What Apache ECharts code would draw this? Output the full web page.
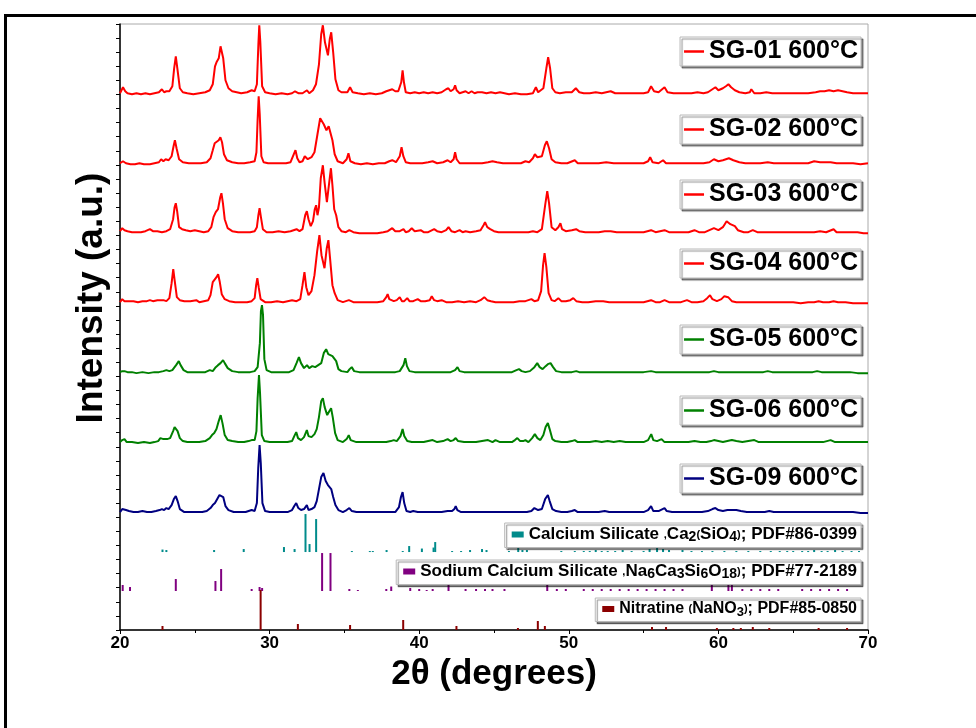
<!DOCTYPE html>
<html><head><meta charset="utf-8">
<script src="https://cdn.jsdelivr.net/npm/echarts@6/dist/echarts.min.js"></script>
<style>html,body{margin:0;padding:0;background:#fff}#c{width:976px;height:728px}</style>
</head><body><div id="c"></div>
<script>
// ---- data: [2θ (deg), intensity above own baseline (a.u.)] ----
const sg01 = [[20.0,1],[20.1,3],[20.2,7],[20.35,3],[20.5,1],[20.8,0],[21.1,1],[21.4,0],[21.7,1],[22.0,0],[22.3,1],[22.6,2],[22.8,5],[22.95,2],[23.1,3],[23.3,3],[23.5,8],[23.62,26],[23.73,38],[23.85,24],[24.0,6],[24.2,2],[24.5,1],[24.9,0],[25.3,1],[25.7,2],[26.0,4],[26.2,10],[26.35,28],[26.45,32],[26.6,36],[26.72,48],[26.8,50],[26.9,36],[27.05,14],[27.25,6],[27.5,3],[27.8,2],[28.1,1],[28.5,2],[28.8,4],[29.0,3],[29.15,10],[29.25,50],[29.31,69],[29.38,52],[29.5,8],[29.7,2],[30.0,1],[30.4,0],[30.8,1],[31.2,0],[31.5,1],[31.7,3],[31.8,5],[31.95,1],[32.2,1],[32.5,4],[32.65,1],[32.9,4],[33.1,10],[33.3,30],[33.45,60],[33.56,69],[33.7,52],[33.9,39],[34.02,55],[34.12,62],[34.25,42],[34.4,15],[34.6,4],[34.8,2],[35.2,2],[35.38,7],[35.55,2],[35.9,1],[36.3,0],[36.7,1],[37.1,0],[37.5,1],[37.8,3],[38.0,4],[38.2,5],[38.4,3],[38.6,3],[38.8,12],[38.89,24],[38.98,12],[39.1,2],[39.4,1],[39.7,2],[40.0,1],[40.3,2],[40.6,1],[40.9,2],[41.2,1],[41.5,2],[41.8,5],[41.95,6],[42.1,3],[42.3,5],[42.4,9],[42.5,4],[42.7,1],[42.9,2],[43.1,3],[43.3,1],[43.5,3],[43.7,1],[43.9,2],[44.2,2],[44.5,1],[44.8,2],[45.1,1],[45.4,2],[45.7,1],[46.0,0],[46.4,1],[46.8,0],[47.2,0],[47.6,1],[47.8,7],[47.95,2],[48.3,6],[48.5,26],[48.62,37],[48.75,26],[48.9,6],[49.1,2],[49.4,1],[49.8,2],[50.2,2],[50.47,6],[50.7,2],[51.0,1],[51.4,1],[51.8,2],[52.2,1],[52.5,2],[52.8,3],[53.1,1],[53.5,1],[54.0,1],[54.5,1],[55.0,1],[55.3,2],[55.5,8],[55.7,3],[56.0,2],[56.4,7],[56.6,2],[57.0,1],[57.4,1],[57.8,1],[58.2,1],[58.6,2],[59.0,1],[59.3,2],[59.6,5],[59.8,7],[60.0,4],[60.3,6],[60.5,8],[60.67,10],[60.85,7],[61.1,4],[61.4,2],[61.8,1],[62.1,2],[62.2,5],[62.4,1],[62.8,1],[63.2,2],[63.6,1],[64.0,1],[64.5,1],[65.0,1],[65.5,1],[66.0,1],[66.5,2],[66.8,3],[67.1,3],[67.4,4],[67.7,3],[68.0,4],[68.3,3],[68.6,2],[69.0,1],[69.5,1],[70.0,1]];
const sg02 = [[20.0,1],[20.2,3],[20.4,1],[20.7,0],[21.0,0],[21.3,1],[21.6,0],[22.0,0],[22.3,1],[22.6,2],[22.75,5],[22.9,3],[23.05,5],[23.25,4],[23.45,8],[23.58,18],[23.67,24],[23.78,16],[23.95,5],[24.2,2],[24.6,1],[25.0,1],[25.4,1],[25.8,2],[26.05,6],[26.2,14],[26.33,21],[26.45,20],[26.6,24],[26.71,27],[26.82,22],[26.95,10],[27.15,4],[27.5,2],[27.9,1],[28.3,1],[28.7,2],[29.0,3],[29.12,12],[29.2,45],[29.27,68],[29.34,50],[29.45,8],[29.6,2],[29.9,1],[30.3,1],[30.7,1],[31.1,1],[31.4,2],[31.62,10],[31.73,14],[31.85,6],[32.0,2],[32.2,3],[32.35,8],[32.44,9],[32.55,5],[32.8,7],[33.0,12],[33.2,30],[33.38,46],[33.49,48],[33.62,40],[33.8,34],[33.95,38],[34.05,36],[34.2,24],[34.35,10],[34.55,3],[34.9,1],[35.15,5],[35.27,11],[35.4,3],[35.7,1],[36.1,0],[36.5,1],[36.9,0],[37.3,1],[37.7,1],[38.0,3],[38.2,4],[38.45,2],[38.7,8],[38.82,17],[38.94,8],[39.1,2],[39.4,1],[39.8,1],[40.2,1],[40.6,2],[40.9,3],[41.2,1],[41.6,2],[41.9,4],[42.1,2],[42.3,5],[42.4,12],[42.5,5],[42.7,1],[43.0,1],[43.4,1],[43.8,1],[44.2,1],[44.6,2],[44.9,3],[45.2,2],[45.6,1],[46.0,1],[46.4,1],[46.8,1],[47.1,3],[47.35,2],[47.6,6],[47.73,10],[47.9,7],[48.2,8],[48.4,19],[48.53,23],[48.68,16],[48.85,5],[49.1,2],[49.5,1],[49.9,1],[50.4,4],[50.6,1],[51.0,1],[51.5,1],[52.0,1],[52.5,2],[53.0,1],[53.5,1],[54.0,1],[54.5,1],[55.0,1],[55.3,3],[55.44,7],[55.6,2],[56.0,1],[56.3,4],[56.5,1],[57.0,1],[57.5,1],[58.0,1],[58.5,1],[59.0,1],[59.4,2],[59.7,5],[60.0,3],[60.3,4],[60.7,6],[61.0,4],[61.4,2],[61.8,1],[62.3,1],[62.8,1],[63.3,2],[63.7,1],[64.2,1],[64.8,1],[65.4,1],[66.0,1],[66.4,3],[66.8,2],[67.2,2],[67.5,2],[67.9,1],[68.4,1],[69.0,1],[69.5,0],[70.0,1]];
const sg03 = [[20.0,2],[20.15,5],[20.3,3],[20.5,2],[20.8,1],[21.1,1],[21.4,1],[21.7,2],[22.0,4],[22.2,2],[22.5,2],[22.8,1],[23.1,2],[23.35,4],[23.55,14],[23.65,26],[23.73,30],[23.82,22],[23.95,6],[24.15,4],[24.4,3],[24.7,2],[25.0,3],[25.13,5],[25.3,2],[25.6,1],[25.9,2],[26.1,6],[26.25,16],[26.4,21],[26.55,24],[26.7,36],[26.78,40],[26.88,30],[27.0,14],[27.2,5],[27.5,2],[27.9,1],[28.3,1],[28.7,1],[29.0,2],[29.15,6],[29.25,18],[29.33,25],[29.42,16],[29.55,4],[29.8,1],[30.2,1],[30.6,2],[31.0,1],[31.4,2],[31.8,4],[32.0,2],[32.2,4],[32.38,18],[32.49,22],[32.6,14],[32.75,7],[32.9,12],[33.02,24],[33.11,28],[33.2,18],[33.3,26],[33.42,55],[33.56,68],[33.68,50],[33.83,31],[33.98,50],[34.1,65],[34.2,48],[34.32,24],[34.45,18],[34.6,6],[34.8,2],[35.1,1],[35.33,3],[35.6,1],[36.0,0],[36.4,0],[36.8,0],[37.2,0],[37.6,1],[37.9,2],[38.2,5],[38.4,2],[38.7,2],[38.95,4],[39.1,1],[39.3,2],[39.5,5],[39.7,2],[40.1,3],[40.3,1],[40.6,1],[41.0,4],[41.2,2],[41.5,1],[41.8,3],[41.96,6],[42.15,2],[42.4,1],[42.7,3],[42.9,1],[43.1,2],[43.4,1],[43.8,2],[44.1,3],[44.3,8],[44.4,11],[44.55,6],[44.75,4],[45.0,2],[45.3,1],[45.7,1],[46.1,1],[46.5,1],[46.9,1],[47.3,1],[47.6,2],[47.9,1],[48.2,4],[48.42,28],[48.56,42],[48.68,30],[48.85,6],[49.1,3],[49.3,6],[49.44,10],[49.55,4],[49.8,2],[50.2,3],[50.49,4],[50.7,2],[51.1,1],[51.5,1],[52.0,1],[52.4,2],[52.8,2],[53.2,1],[53.6,1],[54.0,1],[54.5,1],[55.0,1],[55.5,3],[55.8,1],[56.1,2],[56.4,3],[56.7,1],[57.1,1],[57.5,1],[58.0,1],[58.4,3],[58.7,1],[59.1,1],[59.4,3],[59.7,5],[60.0,3],[60.3,6],[60.55,12],[60.67,13],[60.8,9],[61.1,7],[61.3,3],[61.7,1],[62.0,1],[62.3,3],[62.6,1],[63.0,1],[63.5,1],[64.0,1],[64.5,1],[65.0,1],[65.5,1],[66.0,1],[66.4,1],[66.8,2],[67.2,1],[67.7,4],[67.9,1],[68.3,1],[68.8,1],[69.3,1],[69.7,0],[70.0,0]];
const sg04 = [[20.0,1],[20.15,4],[20.3,2],[20.6,2],[20.9,2],[21.2,1],[21.5,2],[21.8,2],[22.0,3],[22.2,2],[22.5,3],[22.9,3],[23.1,2],[23.3,5],[23.45,20],[23.56,34],[23.66,22],[23.8,6],[24.0,3],[24.3,2],[24.7,2],[25.1,3],[25.3,1],[25.6,2],[25.9,3],[26.05,8],[26.2,21],[26.32,20],[26.45,26],[26.56,29],[26.66,22],[26.8,9],[27.0,4],[27.3,2],[27.7,1],[28.1,1],[28.5,1],[28.8,2],[29.0,5],[29.1,18],[29.18,25],[29.27,16],[29.4,4],[29.7,1],[30.1,1],[30.5,2],[30.9,1],[31.2,2],[31.5,3],[31.8,2],[32.05,4],[32.2,18],[32.33,31],[32.45,16],[32.6,8],[32.8,12],[33.0,28],[33.18,52],[33.33,68],[33.47,48],[33.67,35],[33.82,55],[33.93,63],[34.04,45],[34.2,18],[34.35,10],[34.55,3],[34.9,1],[35.3,3],[35.6,1],[36.0,1],[36.4,1],[36.8,1],[37.2,1],[37.6,2],[37.8,6],[37.89,9],[38.0,4],[38.3,2],[38.5,3],[38.7,6],[38.85,2],[39.0,2],[39.2,5],[39.35,2],[39.6,2],[39.9,4],[40.1,2],[40.4,2],[40.7,3],[40.84,7],[41.0,3],[41.2,2],[41.5,3],[41.8,1],[42.2,1],[42.6,2],[43.0,1],[43.4,2],[43.8,1],[44.1,3],[44.35,6],[44.55,3],[44.8,2],[45.1,1],[45.5,1],[45.9,1],[46.3,1],[46.7,2],[47.1,2],[47.5,4],[47.7,2],[47.95,3],[48.15,12],[48.28,38],[48.38,50],[48.5,36],[48.65,10],[48.85,3],[49.05,2],[49.3,5],[49.5,2],[49.8,2],[50.1,3],[50.3,5],[50.5,2],[50.9,1],[51.3,1],[51.8,2],[52.3,2],[52.7,1],[53.2,1],[53.6,1],[54.0,1],[54.5,1],[55.0,1],[55.5,3],[55.8,1],[56.1,1],[56.4,3],[56.7,1],[57.1,1],[57.5,1],[57.9,3],[58.2,1],[58.6,1],[59.0,2],[59.25,5],[59.44,8],[59.6,4],[59.9,2],[60.2,4],[60.4,7],[60.51,9],[60.65,6],[60.9,2],[61.2,1],[61.6,1],[62.0,1],[62.5,1],[63.0,1],[63.5,1],[64.0,1],[64.5,1],[65.0,1],[65.5,0],[66.0,1],[66.4,1],[66.7,2],[67.0,1],[67.4,1],[67.7,2],[68.0,1],[68.5,1],[69.0,0],[69.5,0],[70.0,0]];
const sg05 = [[20.0,1],[20.15,2],[20.3,2],[20.5,1],[20.8,1],[21.1,0],[21.5,1],[21.9,0],[22.3,1],[22.6,1],[22.9,2],[23.1,3],[23.3,2],[23.5,3],[23.75,8],[23.93,12],[24.05,8],[24.25,3],[24.5,1],[24.9,1],[25.3,1],[25.7,1],[26.0,3],[26.2,2],[26.4,6],[26.55,8],[26.72,10],[26.89,13],[27.0,10],[27.2,5],[27.5,2],[27.9,1],[28.3,1],[28.7,1],[29.0,2],[29.2,6],[29.35,30],[29.42,62],[29.49,68],[29.56,58],[29.65,14],[29.8,3],[30.1,1],[30.5,1],[30.9,1],[31.3,1],[31.6,3],[31.8,10],[31.96,16],[32.1,10],[32.3,5],[32.5,8],[32.65,5],[32.85,7],[33.05,6],[33.25,8],[33.45,10],[33.62,20],[33.78,24],[33.92,19],[34.05,18],[34.2,17],[34.33,19],[34.45,12],[34.6,4],[34.8,2],[35.2,1],[35.35,4],[35.49,6],[35.65,2],[36.0,1],[36.4,1],[36.8,1],[37.2,1],[37.6,1],[38.0,1],[38.4,1],[38.7,2],[38.95,8],[39.07,15],[39.18,7],[39.35,2],[39.7,1],[40.1,1],[40.5,1],[40.9,1],[41.3,1],[41.7,1],[42.1,1],[42.4,3],[42.56,6],[42.7,2],[43.0,1],[43.4,1],[43.8,1],[44.2,1],[44.6,1],[45.0,1],[45.4,1],[45.8,1],[46.2,1],[46.5,3],[46.67,4],[46.85,2],[47.1,1],[47.4,2],[47.7,6],[47.89,10],[48.05,6],[48.25,4],[48.45,7],[48.6,9],[48.78,10],[48.95,6],[49.15,2],[49.5,1],[49.9,1],[50.2,1],[50.5,2],[50.7,1],[51.1,1],[51.5,1],[52.0,1],[52.5,1],[53.0,1],[53.5,1],[54.0,1],[54.5,1],[55.0,1],[55.5,2],[55.8,1],[56.2,1],[56.6,1],[57.0,1],[57.5,1],[58.0,1],[58.5,1],[59.0,1],[59.4,1],[59.7,2],[60.0,1],[60.4,1],[60.8,1],[61.2,1],[61.6,1],[62.0,1],[62.5,1],[63.0,1],[63.3,2],[63.6,1],[64.0,1],[64.5,1],[65.0,1],[65.5,1],[66.0,1],[66.3,1],[66.6,2],[66.9,1],[67.3,1],[67.8,1],[68.3,1],[68.8,1],[69.3,0],[70.0,0]];
const sg06 = [[20.0,1],[20.15,3],[20.3,4],[20.45,1],[20.8,1],[21.2,0],[21.6,1],[22.0,0],[22.3,1],[22.55,2],[22.7,5],[22.8,7],[22.9,4],[23.0,5],[23.15,4],[23.35,5],[23.55,12],[23.65,16],[23.73,18],[23.85,12],[24.0,5],[24.2,2],[24.5,1],[24.9,1],[25.0,2],[25.3,1],[25.7,2],[26.0,5],[26.15,8],[26.3,10],[26.45,14],[26.6,22],[26.73,28],[26.85,20],[27.0,8],[27.2,3],[27.5,2],[27.9,1],[28.3,1],[28.6,2],[28.8,3],[29.0,3],[29.12,12],[29.2,45],[29.29,68],[29.36,50],[29.48,8],[29.65,2],[30.0,1],[30.4,1],[30.8,1],[31.2,1],[31.5,2],[31.65,7],[31.78,11],[31.9,5],[32.1,3],[32.3,6],[32.49,13],[32.6,7],[32.8,6],[33.0,9],[33.15,14],[33.3,26],[33.45,42],[33.56,45],[33.68,36],[33.85,28],[34.0,32],[34.11,35],[34.22,26],[34.38,10],[34.55,3],[34.9,1],[35.15,4],[35.29,8],[35.42,3],[35.8,1],[36.2,1],[36.6,1],[37.0,1],[37.4,1],[37.8,1],[38.1,2],[38.3,3],[38.5,2],[38.75,7],[38.89,14],[39.0,7],[39.2,2],[39.5,1],[39.9,1],[40.3,1],[40.6,2],[40.9,3],[41.2,1],[41.6,2],[41.9,4],[42.1,2],[42.3,3],[42.44,5],[42.6,2],[43.0,1],[43.4,1],[43.8,1],[44.2,2],[44.6,3],[44.9,1],[45.1,3],[45.4,1],[45.8,1],[46.2,1],[46.4,3],[46.56,5],[46.75,2],[46.95,2],[47.1,3],[47.3,1],[47.55,5],[47.73,9],[47.9,5],[48.1,3],[48.3,8],[48.45,16],[48.6,20],[48.72,14],[48.9,4],[49.1,2],[49.5,1],[49.9,1],[50.2,2],[50.4,3],[50.6,1],[51.0,1],[51.4,1],[51.8,2],[52.2,1],[52.6,2],[53.0,1],[53.4,2],[53.8,1],[54.2,1],[54.6,1],[55.0,1],[55.3,3],[55.51,9],[55.65,3],[55.9,2],[56.2,4],[56.4,1],[56.8,1],[57.2,1],[57.6,1],[58.0,1],[58.4,2],[58.8,1],[59.2,1],[59.5,2],[59.7,3],[60.0,2],[60.3,1],[60.6,2],[60.9,3],[61.2,2],[61.6,1],[62.0,2],[62.4,3],[62.7,1],[63.1,1],[63.6,1],[64.0,1],[64.5,1],[65.0,1],[65.5,1],[66.0,1],[66.5,1],[67.0,1],[67.5,3],[67.8,1],[68.3,1],[68.8,1],[69.3,1],[69.7,1],[70.0,1]];
const sg09 = [[20.0,1],[20.15,4],[20.27,5],[20.4,3],[20.6,2],[20.9,1],[21.2,1],[21.5,2],[21.8,1],[22.1,1],[22.4,2],[22.65,3],[22.8,4],[22.95,3],[23.1,5],[23.25,4],[23.45,8],[23.6,14],[23.73,17],[23.85,12],[24.0,4],[24.3,1],[24.7,1],[25.1,1],[25.5,1],[25.8,2],[26.05,5],[26.2,8],[26.35,10],[26.5,14],[26.65,18],[26.78,19],[26.9,16],[27.05,7],[27.25,3],[27.6,1],[28.0,1],[28.4,1],[28.8,3],[29.0,2],[29.15,10],[29.24,45],[29.33,68],[29.41,50],[29.52,10],[29.7,2],[30.0,1],[30.4,1],[30.8,1],[31.2,1],[31.5,3],[31.65,7],[31.78,10],[31.92,5],[32.1,3],[32.3,4],[32.49,8],[32.6,3],[32.8,4],[33.0,6],[33.15,12],[33.3,24],[33.45,36],[33.6,40],[33.75,32],[33.9,28],[34.0,28],[34.12,24],[34.25,16],[34.4,8],[34.6,3],[34.9,1],[35.15,3],[35.33,5],[35.5,2],[35.8,1],[36.2,1],[36.6,1],[37.0,1],[37.4,1],[37.8,1],[38.1,1],[38.4,1],[38.65,6],[38.78,16],[38.89,21],[39.0,10],[39.15,2],[39.4,1],[39.6,2],[39.9,1],[40.3,1],[40.7,1],[41.1,1],[41.5,1],[41.9,2],[42.2,2],[42.35,4],[42.44,7],[42.55,3],[42.8,1],[43.2,1],[43.6,1],[44.0,1],[44.4,1],[44.8,1],[45.2,1],[45.6,1],[46.0,1],[46.4,1],[46.8,1],[47.2,1],[47.5,2],[47.7,5],[47.82,7],[47.95,3],[48.2,4],[48.42,14],[48.6,18],[48.72,12],[48.9,4],[49.15,2],[49.5,1],[49.9,1],[50.2,2],[50.4,3],[50.6,1],[51.0,1],[51.5,1],[52.0,1],[52.4,2],[52.7,1],[53.1,1],[53.5,1],[54.0,1],[54.5,1],[55.0,1],[55.3,3],[55.5,7],[55.65,2],[56.0,2],[56.4,5],[56.55,2],[56.9,1],[57.3,1],[57.7,1],[58.1,1],[58.5,1],[58.9,1],[59.3,2],[59.6,4],[59.8,5],[60.0,3],[60.3,2],[60.6,3],[60.9,3],[61.2,3],[61.5,2],[61.9,1],[62.3,1],[62.7,1],[63.1,1],[63.4,2],[63.7,1],[64.1,1],[64.6,1],[65.1,1],[65.6,1],[66.1,1],[66.6,1],[67.0,1],[67.5,1],[68.0,1],[68.5,1],[69.0,1],[69.5,0],[70.0,0]];

// reference patterns: [2θ, relative intensity]
const refCa2SiO4 = [[22.84,2.5],[23.1,2],[26.29,2],[28.27,3],[30.96,5],[31.67,3],[32.4,38],[32.67,8],[33.11,33],[35.5,1],[36.7,1],[36.9,1],[37.82,2],[38.9,1],[39.33,6],[40.18,3.5],[40.96,4.5],[41.07,10],[42.2,1],[42.8,1],[43.4,2],[44.2,3],[44.5,2],[46.0,1],[46.62,4],[46.9,2],[47.2,2],[49.5,1],[50.4,1],[51.0,1],[51.4,1],[51.8,2],[52.2,1],[52.6,1],[53.1,1],[53.6,2],[54.2,1],[55.0,1],[55.4,3],[55.9,4],[56.3,3],[56.7,2],[57.6,2],[58.2,1],[58.9,1],[59.6,1],[60.4,1],[61.2,1],[62.0,1],[62.8,1],[63.5,1],[64.1,1],[64.6,1],[65.0,1],[65.6,1],[66.0,1],[66.4,2],[66.9,1],[67.3,1],[67.8,2],[68.3,1],[68.9,1],[69.4,1]];
const refNa6Ca3Si6O18 = [[20.18,6],[20.67,4],[23.73,12],[26.38,10],[26.76,22],[28.8,2],[29.33,4],[29.5,3],[33.51,38],[34.07,38],[35.33,2],[35.9,1],[37.8,2],[38.13,4.5],[39.4,3],[40.0,2],[40.5,1],[40.9,2],[41.96,6],[43.1,2],[43.8,2],[44.4,2],[44.9,2],[45.7,2],[48.56,9],[49.2,2],[49.8,2],[51.0,2],[51.6,2],[52.2,2],[52.8,2],[53.4,2],[54.0,2],[54.6,2],[55.2,2],[55.8,2],[56.4,2],[57.0,2],[57.6,2],[59.56,6],[60.67,8],[60.9,6],[61.6,2],[62.2,2],[62.8,2],[63.4,2],[64.0,2],[65.6,2],[66.2,2],[66.8,2],[67.4,2],[68.0,2],[68.6,2]];
const refNaNO3 = [[22.84,4],[29.4,40],[31.89,6],[35.38,5],[38.93,10],[42.49,4],[46.6,2],[47.93,9],[48.4,4],[55.56,3],[56.5,3],[59.9,2],[61.0,2],[61.5,2],[62.3,3],[63.4,2],[66.7,2],[68.6,2]];

const sampleNames = ['SG-01 600°C','SG-02 600°C','SG-03 600°C','SG-04 600°C','SG-05 600°C','SG-06 600°C','SG-09 600°C'];
const sampleData = [sg01, sg02, sg03, sg04, sg05, sg06, sg09];
const sampleOffsets = [536, 466, 397, 327, 257, 187, 117];   // vertical stacking offsets (a.u.)
const refNames = ['Calcium Silicate', 'Sodium Calcium Silicate', 'Nitratine'];
const refData = [refCa2SiO4, refNa6Ca3Si6O18, refNaNO3];
const refOffsets = [78, 39, 0];
const xTickValues = [20, 30, 40, 50, 60, 70];

// ---- styles ----
const sampleColors = ['#ff0000','#ff0000','#ff0000','#ff0000','#008000','#008000','#000080'];
const refColors = ['#008b8b', '#800080', '#8b0000'];
const sampleLegendTops = [37, 115, 180, 249, 325, 396, 464];
const refLegendTops = [523, 560, 598];
const refFontSizes = [17, 17, 16];
const refFormatters = [
  'Calcium Silicate {s|,}Ca{b|2}{s|(}SiO{b|4}{s|)}; PDF#86-0399',
  'Sodium Calcium Silicate {s|,}Na{b|6}Ca{b|3}Si{b|6}O{b|18}{s|)}; PDF#77-2189',
  'Nitratine {s|(}NaNO{b|3}{s|)}; PDF#85-0850'
];
const FONT = '"Liberation Sans", Arial, sans-serif';

const chart = echarts.init(document.getElementById('c'));

const series = [];
sampleData.forEach((d, i) => {
  series.push({
    type: 'line', name: sampleNames[i], showSymbol: false, symbol: 'none', silent: true,
    data: d.map(p => [p[0], p[1] + sampleOffsets[i]]),
    lineStyle: { width: 2, color: sampleColors[i] }, itemStyle: { color: sampleColors[i] }, z: 3
  });
});
refData.forEach((d, i) => {
  const col = refColors[i];
  series.push({
    type: 'custom', name: refNames[i], silent: true,
    data: d.map(p => [p[0], p[1], refOffsets[i]]),
    encode: { x: 0, y: 1 },
    itemStyle: { color: col },
    renderItem: function (params, api) {
      const x = api.value(0), h = api.value(1), base = api.value(2);
      const p0 = api.coord([x, base]);
      const p1 = api.coord([x, base + h]);
      return { type: 'line', shape: { x1: p0[0], y1: p0[1], x2: p1[0], y2: p1[1] },
               style: { stroke: col, lineWidth: 2 } };
    }, z: 2
  });
});

const legends = [];
sampleNames.forEach((n, i) => {
  legends.push({
    data: [{ name: n, icon: 'rect' }], right: 115, top: sampleLegendTops[i], selectedMode: false,
    itemWidth: 20, itemHeight: 2.5, padding: [2, 3, 2, 4],
    backgroundColor: '#fff', borderColor: '#b8b8b8', borderWidth: 1,
    shadowColor: 'rgba(0,0,0,0.45)', shadowOffsetX: 2, shadowOffsetY: 2, shadowBlur: 1,
    textStyle: { fontFamily: FONT, fontWeight: 'bold', fontSize: 25, color: '#000' }
  });
});
refNames.forEach((n, i) => {
  const fs = refFontSizes[i];
  legends.push({
    data: [{ name: n, icon: 'rect' }], right: 115, top: refLegendTops[i], selectedMode: false,
    itemWidth: 12, itemHeight: 6, padding: [3, 4, 3, 7],
    backgroundColor: '#fff', borderColor: '#b8b8b8', borderWidth: 1,
    shadowColor: 'rgba(0,0,0,0.45)', shadowOffsetX: 2, shadowOffsetY: 2, shadowBlur: 1,
    formatter: () => refFormatters[i],
    textStyle: {
      fontFamily: FONT, fontWeight: 'bold', fontSize: fs, color: '#000',
      rich: {
        s: { fontFamily: FONT, fontWeight: 'bold', fontSize: 11, color: '#000' },
        b: { fontFamily: FONT, fontWeight: 'bold', fontSize: fs - 3, color: '#000', padding: [6, 0, 0, 0] }
      }
    }
  });
});

chart.setOption({
  animation: false,
  backgroundColor: '#fff',
  grid: { left: 120, right: 108, top: 24, bottom: 98, show: true, borderColor: '#aaaaaa', borderWidth: 1 },
  xAxis: {
    type: 'value', min: xTickValues[0], max: xTickValues[xTickValues.length - 1], interval: 10,
    axisLine: { show: true, lineStyle: { color: '#000', width: 1.5 } },
    axisTick: { show: true, length: 4, lineStyle: { color: '#000', width: 1 } },
    minorTick: { show: true, splitNumber: 2, length: 3, lineStyle: { color: '#000' } },
    splitLine: { show: false },
    axisLabel: { color: '#000', fontFamily: FONT, fontWeight: 'bold', fontSize: 17, margin: 5 },
    name: '2θ (degrees)', nameLocation: 'middle', nameGap: 17,
    nameTextStyle: { color: '#000', fontFamily: FONT, fontWeight: 'bold', fontSize: 35 }
  },
  yAxis: {
    type: 'value', min: 0, max: 606.3, interval: 14.1,
    axisLine: { show: true, lineStyle: { color: '#000', width: 1.5 } },
    axisTick: { show: true, length: 4, lineStyle: { color: '#000', width: 1 } },
    axisLabel: { show: false }, splitLine: { show: false },
    name: 'Intensity (a.u.)', nameLocation: 'middle', nameGap: 10,
    nameTextStyle: { color: '#000', fontFamily: FONT, fontWeight: 'bold', fontSize: 37, padding: [0, 0, 0, 58] }
  },
  legend: legends,
  series: series,
  graphic: [{
    type: 'polyline', silent: true, z: 10,
    shape: { points: [[5.5, 728], [5.5, 15.5], [976, 15.5]] },
    style: { stroke: '#000', lineWidth: 3, fill: null }
  }]
});
</script></body></html>
